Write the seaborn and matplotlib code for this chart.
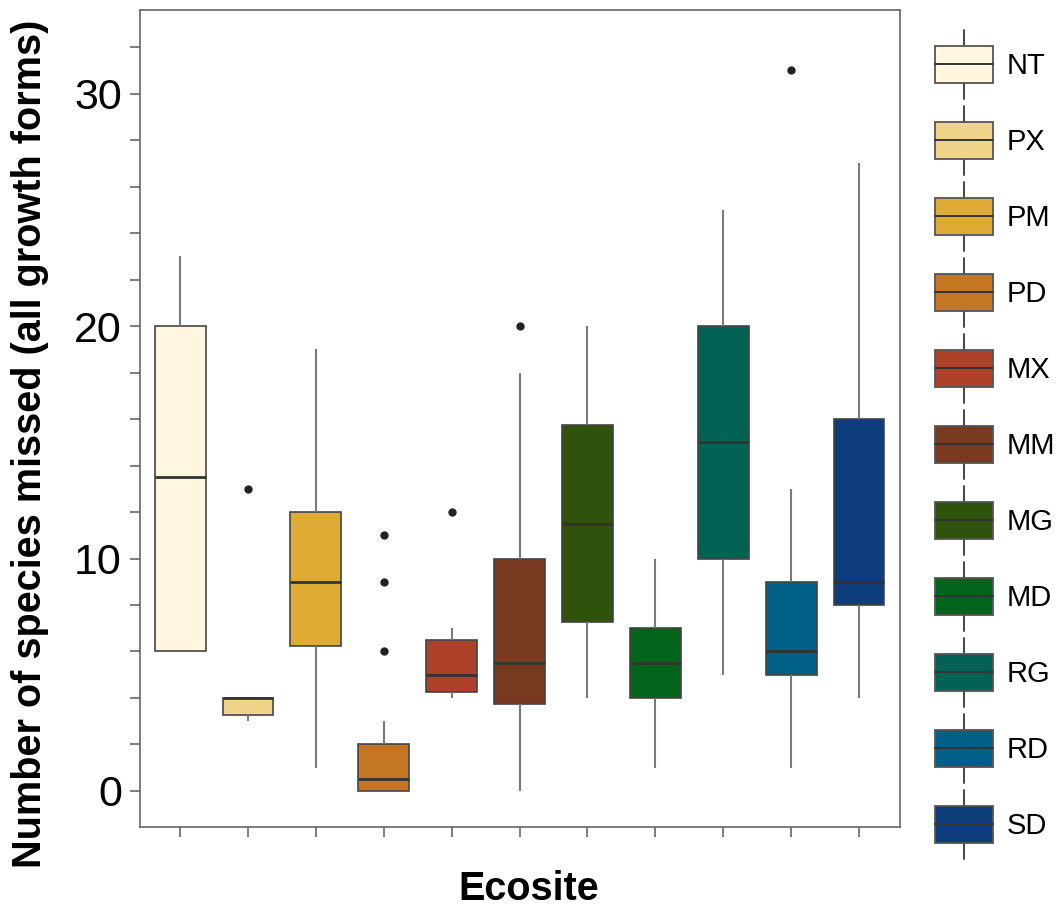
import matplotlib
matplotlib.use("Agg")
import matplotlib.pyplot as plt
from matplotlib.patches import Rectangle, Patch
from matplotlib.lines import Line2D
from matplotlib.legend_handler import HandlerBase
from matplotlib.ticker import MultipleLocator, FixedLocator
import seaborn as sns
import pandas as pd

# ---------------- data ----------------
ecosites = ["NT", "PX", "PM", "PD", "MX", "MM", "MG", "MD", "RG", "RD", "SD"]
nt = [6, 6, 6, 10, 13.5, 17, 20, 21, 23]
px = [3, 3.25, 3.25, 4, 4, 4, 4, 4, 13]
pm = [1, 5, 6.25, 8, 9, 10, 12, 15, 19]
pd_ = [0, 0, 0, 0, 0, 0, 0.5, 0.5, 0.5, 1, 1, 2, 2, 3, 6, 9, 11]
mx = [4, 4.25, 4.25, 4.5, 5, 6, 6.5, 7, 12]
mm = [0, 2, 3.75, 4.5, 5.5, 8, 10, 18, 20]
mg = [4, 6, 7.25, 9, 11.5, 14, 15.75, 18, 20]
md = [1, 3, 4, 5, 5.5, 6, 7, 8, 10]
rg = [5, 8, 10, 12, 15, 18, 20, 22, 25]
rd = [1, 5, 5, 5.5, 6, 8, 9, 13, 31]
sd = [4, 6, 8, 8.5, 9, 12, 16, 20, 27]
colors = ["#FEF6DE", "#EFD48A", "#DEAC34", "#C47622", "#AE412A", "#77391F",
          "#2F520D", "#02641A", "#026253", "#016088", "#0D3C7C"]

series = [nt, px, pm, pd_, mx, mm, mg, md, rg, rd, sd]
df = pd.DataFrame({
    "Ecosite": [e for e, s in zip(ecosites, series) for _ in s],
    "value": [v for s in series for v in s],
})

# ---------------- style ----------------
sns.set_style("white")
plt.rcParams["font.family"] = ["Liberation Sans", "DejaVu Sans"]
plt.rcParams["text.color"] = "black"
plt.rcParams["axes.labelcolor"] = "black"

fig = plt.figure(figsize=(10.61, 9.07), dpi=100)
ax = fig.add_axes([0.132, 0.088, 0.716, 0.901])

sns.boxplot(
    data=df, x="Ecosite", y="value", hue="Ecosite", order=ecosites,
    hue_order=ecosites, palette=colors, width=0.75, legend=False,
    showcaps=False, dodge=False, ax=ax, saturation=1,
    boxprops=dict(edgecolor="#444444", linewidth=1.2),
    whiskerprops=dict(color="#7a7a7a", linewidth=1.5),
    medianprops=dict(color="#333333", linewidth=2.0),
    flierprops=dict(marker="o", markerfacecolor="#222222",
                    markeredgecolor="#222222", markersize=5),
)

ax.set_xlim(-0.59, 10.6)
ax.set_ylim(-1.56, 33.6)
ax.yaxis.set_major_locator(FixedLocator([0, 10, 20, 30]))
ax.yaxis.set_minor_locator(MultipleLocator(2))
ax.set_xticks(range(len(ecosites)))
ax.set_xticklabels([])
ax.tick_params(axis="both", which="both", direction="out", length=7,
               width=1.2, color="#666666", left=True, bottom=True)
ax.tick_params(axis="y", labelsize=31, pad=6, labelcolor="black")
for s in ax.spines.values():
    s.set_visible(True)
    s.set_color("#666666")
    s.set_linewidth(1.2)

ax.set_ylabel("Number of species missed (all growth forms)", fontsize=28.5,
              fontweight="bold")
ax.yaxis.set_label_coords(-0.12, 0.469)
ax.set_xlabel("Ecosite", fontsize=28.5, fontweight="bold")
ax.xaxis.set_label_coords(0.512, -0.052)


# ---------------- legend with box-plot keys ----------------
class BoxKey(Patch):
    pass


class BoxHandler(HandlerBase):
    def create_artists(self, legend, orig_handle, xdescent, ydescent,
                       width, height, fontsize, trans):
        x0, y0 = -xdescent, -ydescent
        cx = x0 + width / 2
        ext = 0.43 * height
        whisk = Line2D([cx, cx], [y0 - ext, y0 + height + ext],
                       color="#444444", linewidth=1.4, transform=trans)
        rect = Rectangle((x0, y0), width, height,
                         facecolor=orig_handle.get_facecolor(),
                         edgecolor="#555555", linewidth=1.3, transform=trans)
        med = Line2D([x0, x0 + width], [y0 + height / 2] * 2,
                     color="#333333", linewidth=1.4, transform=trans)
        return [whisk, rect, med]


handles = [BoxKey(facecolor=c, label=e) for e, c in zip(ecosites, colors)]
fig.legend(handles=handles, labels=ecosites,
           handler_map={BoxKey: BoxHandler()},
           loc="upper left", bbox_to_anchor=(935 / 1061, 1 - 46 / 907),
           frameon=False, fontsize=21, handlelength=1.99, handleheight=1.57,
           labelspacing=1.34, handletextpad=0.48, borderpad=0,
           borderaxespad=0, labelcolor="black")

fig.savefig("out.png", dpi=100)
